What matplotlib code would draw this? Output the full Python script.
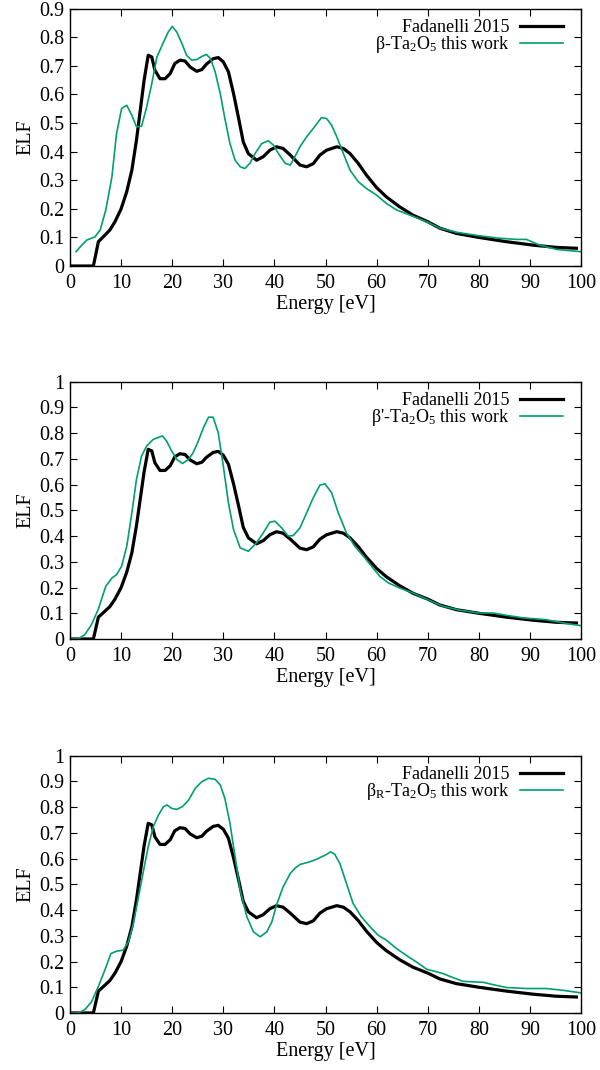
import matplotlib
matplotlib.use('Agg')
from matplotlib import pyplot as plt
from matplotlib.ticker import MultipleLocator, FormatStrFormatter

plt.rcParams['font.family'] = ['Liberation Serif', 'DejaVu Serif']
plt.rcParams['mathtext.fontset'] = 'custom'
plt.rcParams['mathtext.rm'] = 'Liberation Serif'
plt.rcParams['mathtext.it'] = 'Liberation Serif:italic'
plt.rcParams['font.size'] = 14.5

# reference curve (Fadanelli 2015), same in all panels
fad_x = [0, 4.57, 5.55, 6.5, 7.8, 8.8, 10, 11.1, 12.1, 13.0, 14.0, 14.5, 15.3, 16.0, 16.6, 17.6, 18.6,
         19.6, 20.5, 21.5, 22.5, 23.5, 24.8, 25.8, 26.7, 28.0, 29.0, 30.0, 31.0, 32.0, 33.0, 33.9, 34.9,
         36.5, 37.8, 39.1, 40.4, 41.7, 43.1, 45, 46.3, 47.6, 48.9, 50.2, 52.2, 53.5, 54.8, 56.4, 58,
         60, 61.9, 64.5, 67.1, 70, 72.4, 75.6, 80, 85.4, 90.6, 95.2, 99.1]
fad_y = [0, 0, 0.085, 0.102, 0.126, 0.155, 0.2, 0.26, 0.335, 0.44, 0.58, 0.65, 0.737, 0.731, 0.685,
         0.655, 0.655, 0.673, 0.708, 0.72, 0.717, 0.696, 0.681, 0.687, 0.706, 0.725, 0.729, 0.714,
         0.679, 0.603, 0.516, 0.434, 0.393, 0.37, 0.382, 0.405, 0.417, 0.411, 0.388, 0.353, 0.347,
         0.358, 0.388, 0.405, 0.417, 0.411, 0.393, 0.359, 0.318, 0.274, 0.242, 0.207, 0.178, 0.155,
         0.132, 0.114, 0.1, 0.085, 0.073, 0.065, 0.062]

# beta-Ta2O5
b_x = [1.17, 2.3, 3.3, 4.9, 5.9, 7.0, 8.2, 9.1, 10.1, 11.1, 12.1, 13.0, 14.0, 15.0, 16.0, 17.0, 18.3,
       19.2, 20.0, 20.9, 21.9, 22.8, 23.8, 24.8, 25.8, 26.7, 27.5, 28.4, 29.4, 30.3, 31.3, 32.3, 33.3,
       34.2, 35.2, 36.2, 37.5, 38.8, 39.8, 40.8, 42.1, 43.1, 44.0, 45, 46.3, 47.6, 49.2, 50.2, 51.2,
       52.2, 53.5, 54.8, 56.4, 58, 60, 61.9, 63.9, 66.5, 69.8, 72.4, 75.6, 80, 84.1, 87.4, 89.3, 91.9,
       95.2, 100]
b_y = [0.05, 0.073, 0.091, 0.102, 0.126, 0.196, 0.312, 0.463, 0.551, 0.562, 0.527, 0.487, 0.489,
       0.556, 0.638, 0.731, 0.783, 0.818, 0.838, 0.818, 0.778, 0.737, 0.72, 0.722, 0.733, 0.74, 0.725,
       0.679, 0.603, 0.516, 0.428, 0.37, 0.347, 0.341, 0.359, 0.393, 0.428, 0.438, 0.423, 0.393,
       0.359, 0.353, 0.382, 0.417, 0.452, 0.481, 0.519, 0.516, 0.492, 0.452, 0.393, 0.335, 0.295,
       0.271, 0.248, 0.219, 0.196, 0.178, 0.155, 0.132, 0.118, 0.106, 0.097, 0.093, 0.093, 0.073,
       0.058, 0.05]

# beta'-Ta2O5
bp_x = [0, 1.6, 2.9, 4.2, 5.5, 7.0, 8.2, 9.1, 10.1, 11.1, 12.1, 13.0, 14.0, 15.0, 16.3, 18.1, 18.9,
        19.9, 20.9, 22.0, 23.2, 24.1, 25.1, 26.1, 27.1, 28.0, 29.0, 30.0, 31.0, 32.0, 33.3, 34.9, 36.5,
        37.8, 39.1, 40.1, 41.4, 42.7, 43.7, 45, 46.3, 47.6, 48.9, 49.9, 51.2, 52.5, 54.1, 55.7, 57.4,
        59, 60.6, 62.3, 64.5, 67.1, 70, 73, 76.3, 80, 82.8, 85.4, 88.7, 93.2, 97.2, 100]
bp_y = [0, 0, 0.017, 0.056, 0.114, 0.205, 0.237, 0.25, 0.283, 0.36, 0.49, 0.62, 0.711, 0.75, 0.776,
        0.789, 0.769, 0.73, 0.698, 0.682, 0.698, 0.724, 0.769, 0.821, 0.862, 0.862, 0.802, 0.672,
        0.529, 0.425, 0.354, 0.341, 0.374, 0.412, 0.454, 0.458, 0.432, 0.4, 0.402, 0.432, 0.49,
        0.549, 0.598, 0.603, 0.568, 0.49, 0.412, 0.361, 0.322, 0.283, 0.244, 0.218, 0.198, 0.179,
        0.153, 0.127, 0.112, 0.101, 0.101, 0.092, 0.082, 0.075, 0.06, 0.052]

# beta_R-Ta2O5
br_x = [0, 1.6, 2.9, 4.2, 5.5, 6.8, 8.0, 9.1, 10.4, 11.4, 12.4, 13.4, 14.4, 15.3, 16.3, 17.3, 18.3,
        19.0, 19.9, 20.9, 22.0, 23.2, 24.5, 25.8, 27.1, 28.4, 29.4, 30.3, 31.3, 32.3, 33.3, 34.6, 35.9,
        37.2, 38.5, 39.5, 40.4, 41.7, 43.1, 44.0, 45, 47, 48.2, 49.9, 51, 51.8, 52.8, 54.1, 55.4, 57,
        58.7, 60.3, 61.9, 63.9, 65.8, 67.8, 69.8, 71.7, 73, 75, 76.9, 78.9, 80.9, 82.8, 85.4, 89.3,
        93.2, 96.5, 100]
br_y = [0, 0, 0.013, 0.043, 0.101, 0.166, 0.231, 0.24, 0.244, 0.276, 0.348, 0.451, 0.555, 0.646,
        0.724, 0.769, 0.802, 0.808, 0.795, 0.791, 0.802, 0.827, 0.873, 0.899, 0.912, 0.908, 0.886,
        0.834, 0.737, 0.607, 0.477, 0.374, 0.315, 0.296, 0.315, 0.354, 0.419, 0.49, 0.542, 0.562,
        0.577, 0.588, 0.597, 0.613, 0.626, 0.617, 0.581, 0.503, 0.425, 0.374, 0.335, 0.302, 0.283,
        0.25, 0.224, 0.198, 0.17, 0.16, 0.153, 0.137, 0.123, 0.121, 0.119, 0.11, 0.099, 0.095, 0.095,
        0.088, 0.078]

labels = [r'β-Ta$_2$O$_5$ this work', r"β'-Ta$_2$O$_5$ this work", r'β$_\mathrm{R}$-Ta$_2$O$_5$ this work']
series = [(b_x, b_y), (bp_x, bp_y), (br_x, br_y)]
ytops = [0.9, 1.0, 1.0]
bottoms = [0.7514, 0.4028, 0.0533]

fig = plt.figure(figsize=(6, 10.7), dpi=100)
for i in range(3):
    ax = fig.add_axes([0.1167, bottoms[i], 0.8517, 0.2405])
    ax.plot(fad_x, fad_y, color='black', lw=2.3, label='Fadanelli 2015')
    ax.plot(series[i][0], series[i][1], color='#009e73', lw=1.2, label=labels[i])
    ax.set_xlim(0, 100)
    ax.set_ylim(0, ytops[i])
    ax.xaxis.set_major_locator(MultipleLocator(10))
    ax.yaxis.set_major_locator(MultipleLocator(0.1))
    ax.yaxis.set_major_formatter(FormatStrFormatter('%g'))
    ax.tick_params(direction='in', top=True, right=True, length=5, width=0.8)
    ax.tick_params(axis='x', pad=6)
    ax.tick_params(axis='y', pad=4)
    for s in ax.spines.values():
        s.set_linewidth(1.0)
    ax.set_xlabel('Energy [eV]', labelpad=1)
    ax.set_ylabel('ELF', labelpad=3)
    ax.legend(loc='upper right', bbox_to_anchor=(1, 1.03), frameon=False, markerfirst=False,
              fontsize=13, handlelength=2.4, borderaxespad=0.6, labelspacing=-0.1,
              handletextpad=0.55)

fig.savefig('out.png', dpi=100)
